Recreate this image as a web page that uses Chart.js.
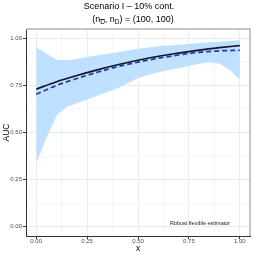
<!DOCTYPE html>
<html>
<head>
<meta charset="utf-8">
<script src="https://cdn.jsdelivr.net/npm/chart.js@4.4.0/dist/chart.umd.min.js"></script>
<style>
  html, body { margin: 0; padding: 0; background: #fff; }
  #wrap { width: 254px; height: 254px; }
</style>
</head>
<body>
<div id="wrap"><canvas id="chart"></canvas></div>
<script>
// values
const curveX = [0, 0.1, 0.2, 0.3, 0.4, 0.5, 0.6, 0.7, 0.8, 0.9, 1.0];
const aucTrue = [0.730, 0.770, 0.803, 0.833, 0.860, 0.884, 0.905, 0.922, 0.938, 0.951, 0.962];
const aucEst = [0.703, 0.750, 0.787, 0.820, 0.850, 0.874, 0.895, 0.912, 0.926, 0.934, 0.937];

const bandX = [0, 0.05, 0.1, 0.15, 0.2, 0.3, 0.4, 0.5, 0.6, 0.7, 0.8, 0.85, 0.9, 0.95, 1.0];
const bandUpper = [0.955, 0.920, 0.886, 0.884, 0.890, 0.910, 0.927, 0.945, 0.958, 0.966, 0.975, 0.979, 0.982, 0.986, 0.990];
const bandLower = [0.335, 0.470, 0.590, 0.635, 0.655, 0.695, 0.735, 0.790, 0.820, 0.842, 0.866, 0.873, 0.866, 0.833, 0.779];

const majorTicks = [0, 0.25, 0.5, 0.75, 1];
const minorTicks = [0.125, 0.375, 0.625, 0.875];

const titleText = 'Scenario I \u2013 10% cont.';
const sizeText = ' = (100, 100)';
const noteText = 'Robust flexible estimator';

const FONT = '"Liberation Sans", Arial, sans-serif';

const pts = (xv, yv) => xv.map((x, i) => ({ x: x, y: yv[i] }));
const isMajor = v => majorTicks.some(m => Math.abs(m - v) < 1e-9);

const allTicks = scale => {
  scale.ticks = majorTicks.concat(minorTicks).sort((a, b) => a - b).map(v => ({ value: v }));
};

// title with subscripts, panel border, note text
const extras = {
  id: 'extras',
  afterDraw(chart) {
    const ctx = chart.ctx;
    const a = chart.chartArea;
    ctx.save();
    ctx.strokeStyle = '#b3b3b3';
    ctx.lineWidth = 1.5;
    ctx.beginPath();
    ctx.moveTo(a.left, a.top);
    ctx.lineTo(a.right, a.top);
    ctx.lineTo(a.right, a.bottom);
    ctx.stroke();

    ctx.fillStyle = '#000';
    ctx.textBaseline = 'middle';
    ctx.font = '9px ' + FONT;
    ctx.textAlign = 'center';
    ctx.fillText(titleText, 129, 6.5);

    // (n_Dbar, n_D) = (100, 100)
    const big = '9px ' + FONT, small = '6.5px ' + FONT;
    const parts = [
      ['(n', big, 0], ['D', small, 2.5, true], [', n', big, 0], ['D', small, 2.5], [')' + sizeText, big, 0]
    ];
    let w = 0;
    parts.forEach(p => { ctx.font = p[1]; w += ctx.measureText(p[0]).width; });
    let x = 133 - w / 2;
    ctx.textAlign = 'left';
    parts.forEach(p => {
      ctx.font = p[1];
      const tw = ctx.measureText(p[0]).width;
      ctx.fillText(p[0], x, 20 + p[2]);
      if (p[3]) {
        ctx.lineWidth = 0.7;
        ctx.strokeStyle = '#000';
        ctx.beginPath();
        ctx.moveTo(x, 19.5);
        ctx.lineTo(x + tw, 19.5);
        ctx.stroke();
      }
      x += tw;
    });

    ctx.font = '5.5px ' + FONT;
    ctx.fillStyle = '#1a1a1a';
    ctx.textAlign = 'center';
    ctx.fillText(noteText, 200, 223);
    ctx.restore();
  }
};

new Chart(document.getElementById('chart').getContext('2d'), {
  type: 'line',
  data: {
    datasets: [
      {
        data: pts(bandX, bandUpper),
        borderWidth: 0,
        pointRadius: 0,
        backgroundColor: '#bfe0ff',
        fill: '+1',
        tension: 0,
        order: 2
      },
      {
        data: pts(bandX, bandLower),
        borderWidth: 0,
        pointRadius: 0,
        fill: false,
        tension: 0,
        order: 2
      },
      {
        data: pts(curveX, aucTrue),
        borderColor: '#141428',
        borderWidth: 1.7,
        pointRadius: 0,
        fill: false,
        cubicInterpolationMode: 'monotone',
        order: 1
      },
      {
        data: pts(curveX, aucEst),
        borderColor: '#1c37b0',
        borderWidth: 1.7,
        borderDash: [5, 3],
        pointRadius: 0,
        fill: false,
        cubicInterpolationMode: 'monotone',
        order: 0
      }
    ]
  },
  options: {
    responsive: true,
    maintainAspectRatio: false,
    animation: false,
    events: [],
    layout: { padding: { top: 29, right: 4, left: 0, bottom: 0 } },
    plugins: {
      legend: { display: false },
      tooltip: { enabled: false }
    },
    scales: {
      x: {
        type: 'linear',
        min: -0.05,
        max: 1.05,
        afterBuildTicks: allTicks,
        afterFit: s => { s.height = 18; },
        border: { color: '#333', width: 1 },
        grid: {
          color: c => isMajor(c.tick.value) ? '#ebebeb' : '#f5f5f5',
          tickColor: c => isMajor(c.tick.value) ? '#333' : 'rgba(0,0,0,0)',
          tickLength: 3
        },
        ticks: {
          padding: -1.5,
          maxRotation: 0,
          autoSkip: false,
          color: '#4d4d4d',
          font: { family: FONT, size: 6 },
          callback: v => isMajor(v) ? v.toFixed(2) : ''
        },
        title: {
          display: true,
          text: 'x',
          color: '#000',
          font: { family: FONT, size: 8.5 },
          padding: { top: 0, bottom: 0.5 }
        }
      },
      y: {
        type: 'linear',
        min: -0.05,
        max: 1.05,
        afterBuildTicks: allTicks,
        afterFit: s => { s.width = 26; },
        border: { color: '#333', width: 1 },
        grid: {
          color: c => isMajor(c.tick.value) ? '#ebebeb' : '#f5f5f5',
          tickColor: c => isMajor(c.tick.value) ? '#333' : 'rgba(0,0,0,0)',
          tickLength: 3
        },
        ticks: {
          padding: 1,
          autoSkip: false,
          color: '#4d4d4d',
          font: { family: FONT, size: 6 },
          callback: v => isMajor(v) ? v.toFixed(2) : ''
        },
        title: {
          display: true,
          text: 'AUC',
          color: '#000',
          font: { family: FONT, size: 8.5 },
          padding: { top: 2, bottom: 0 }
        }
      }
    }
  },
  plugins: [extras]
});
</script>
</body>
</html>
